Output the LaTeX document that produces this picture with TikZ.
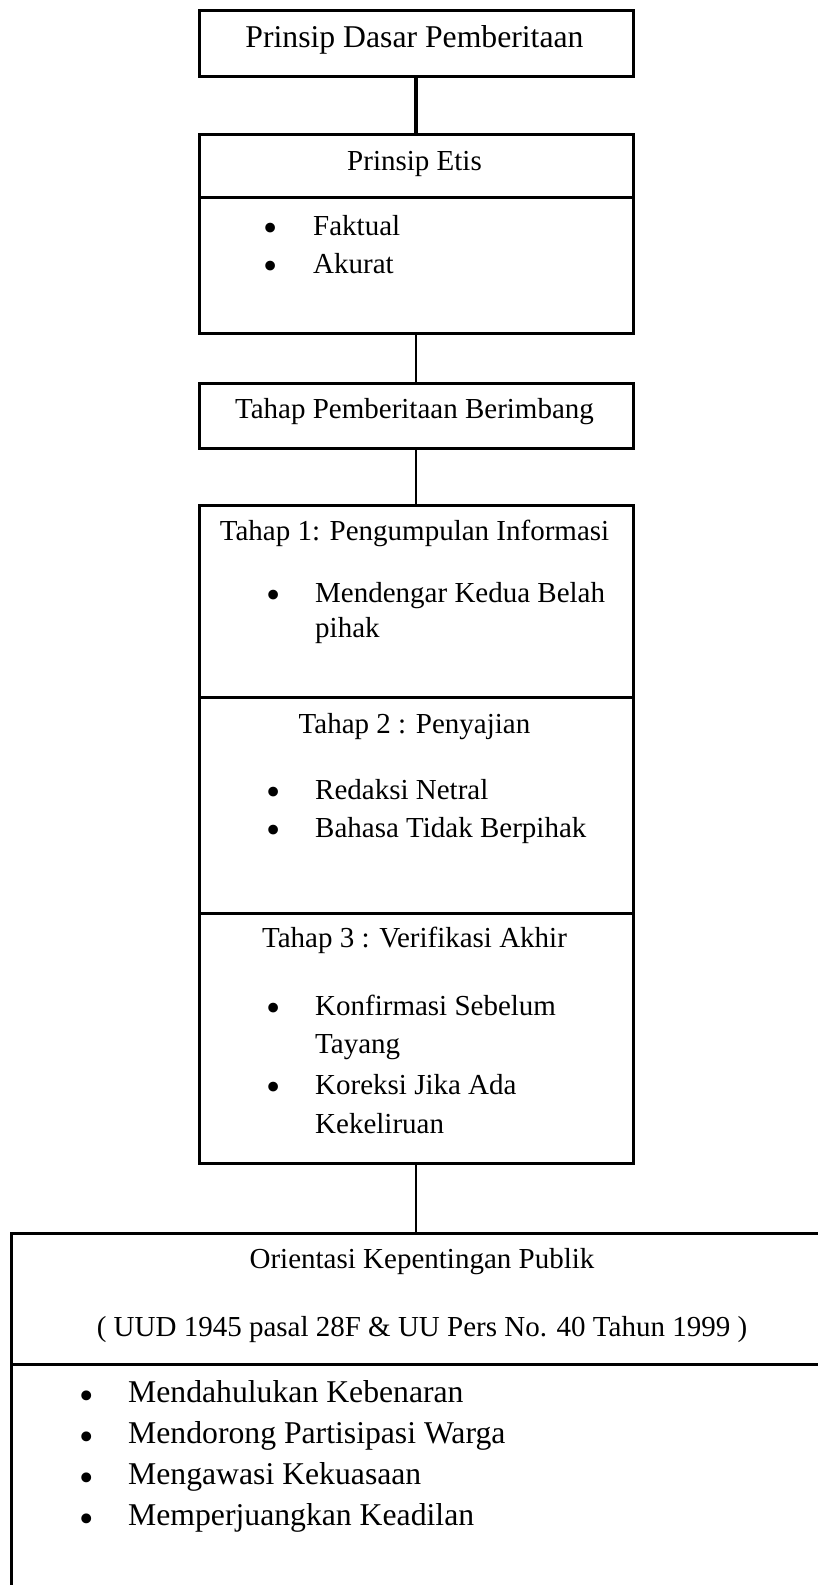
\documentclass[tikz,border=0pt]{standalone}
\usepackage{fontspec}
\setmainfont{Liberation Serif}
\begin{document}
\begin{tikzpicture}[x=1pt,y=-1pt,
  sect/.style={draw,line width=3pt,rectangle,inner sep=0pt,anchor=north west},
  txt/.style={inner sep=0pt,font=\fontsize{29}{35}\selectfont},
  big/.style={inner sep=0pt,font=\fontsize{31.7}{40}\selectfont},
  ctr/.style={anchor=base},
  lft/.style={anchor=base west},
  bul/.style={txt,anchor=base,scale=1.4,yshift=-4.5pt},
  bigbul/.style={big,anchor=base,scale=1.3,yshift=-5.5pt},
  thin/.style={line width=2pt},
  thick/.style={line width=4pt}]
\useasboundingbox (0,0) rectangle (818,1585);
\clip (0,0) rectangle (818,1585);
\coordinate (axis) at (416,0);
% boxes
\node[sect,minimum width=434.5pt,minimum height=66.5pt] (top) at (197.5,8.8) {};
\node[sect,minimum width=434.5pt,minimum height=63pt] (etisH) at (197.5,133) {};
\node[sect,minimum width=434.5pt,minimum height=136pt] (etisB) at (197.5,196) {};
\node[sect,minimum width=434.5pt,minimum height=65pt] (tahap) at (197.5,382) {};
\node[sect,minimum width=434.5pt,minimum height=192pt] (t1) at (197.5,504) {};
\node[sect,minimum width=434.5pt,minimum height=216pt] (t2) at (197.5,696) {};
\node[sect,minimum width=434.5pt,minimum height=250pt] (t3) at (197.5,912) {};
\node[sect,minimum width=824pt,minimum height=131.5pt] (pubH) at (10,1231.5) {};
\node[sect,minimum width=824pt,minimum height=260pt] (pubB) at (10,1363) {};
% connectors
\draw[thick] (top.south -| axis) -- (etisH.north -| axis);
\draw[thin] (etisB.south -| axis) -- (tahap.north -| axis);
\draw[thin] (tahap.south -| axis) -- (t1.north -| axis);
\draw[thin] (t3.south -| axis) -- (pubH.north -| axis);
% texts
\node[big,ctr] (l1) at (414.5,47) {Prinsip Dasar Pemberitaan};
\node[txt,ctr] (l2) at (414.5,170) {Prinsip Etis};
\node[bul] (b1) at (271,235) {•};
\node[txt,lft] (l3) at (313,235) {Faktual};
\node[bul] (b2) at (271,273) {•};
\node[txt,lft] (l4) at (313,273) {Akurat};
\node[txt,ctr] (l5) at (414.5,418) {Tahap Pemberitaan Berimbang};
\node[txt,ctr] (l6) at (414.5,540) {Tahap 1: Pengumpulan Informasi};
\node[bul] (b3) at (274,602) {•};
\node[txt,lft] (l7) at (315,602) {Mendengar Kedua Belah};
\node[txt,lft] (l8) at (315,637) {pihak};
\node[txt,ctr] (l9) at (414.5,733) {Tahap 2 : Penyajian};
\node[bul] (b4) at (274,799) {•};
\node[txt,lft] (l10) at (315,799) {Redaksi Netral};
\node[bul] (b5) at (274,837) {•};
\node[txt,lft] (l11) at (315,837) {Bahasa Tidak Berpihak};
\node[txt,ctr] (l12) at (414.5,947) {Tahap 3 : Verifikasi Akhir};
\node[bul] (b6) at (274,1015) {•};
\node[txt,lft] (l13) at (315,1015) {Konfirmasi Sebelum};
\node[txt,lft] (l14) at (315,1053) {Tayang};
\node[bul] (b7) at (274,1094) {•};
\node[txt,lft] (l15) at (315,1094) {Koreksi Jika Ada};
\node[txt,lft] (l16) at (315,1133) {Kekeliruan};
\node[txt,ctr] (l17) at (422,1268) {Orientasi Kepentingan Publik};
\node[txt,ctr] (l18) at (422,1336) {( UUD 1945 pasal 28F \& UU Pers No. 40 Tahun 1999 )};
\node[bigbul] (b8) at (87,1402) {•};
\node[big,lft] (l19) at (128,1402) {Mendahulukan Kebenaran};
\node[bigbul] (b9) at (87,1443) {•};
\node[big,lft] (l20) at (128,1443) {Mendorong Partisipasi Warga};
\node[bigbul] (b10) at (87,1484) {•};
\node[big,lft] (l21) at (128,1484) {Mengawasi Kekuasaan};
\node[bigbul] (b11) at (87,1525) {•};
\node[big,lft] (l22) at (128,1525) {Memperjuangkan Keadilan};
\end{tikzpicture}
\end{document}
